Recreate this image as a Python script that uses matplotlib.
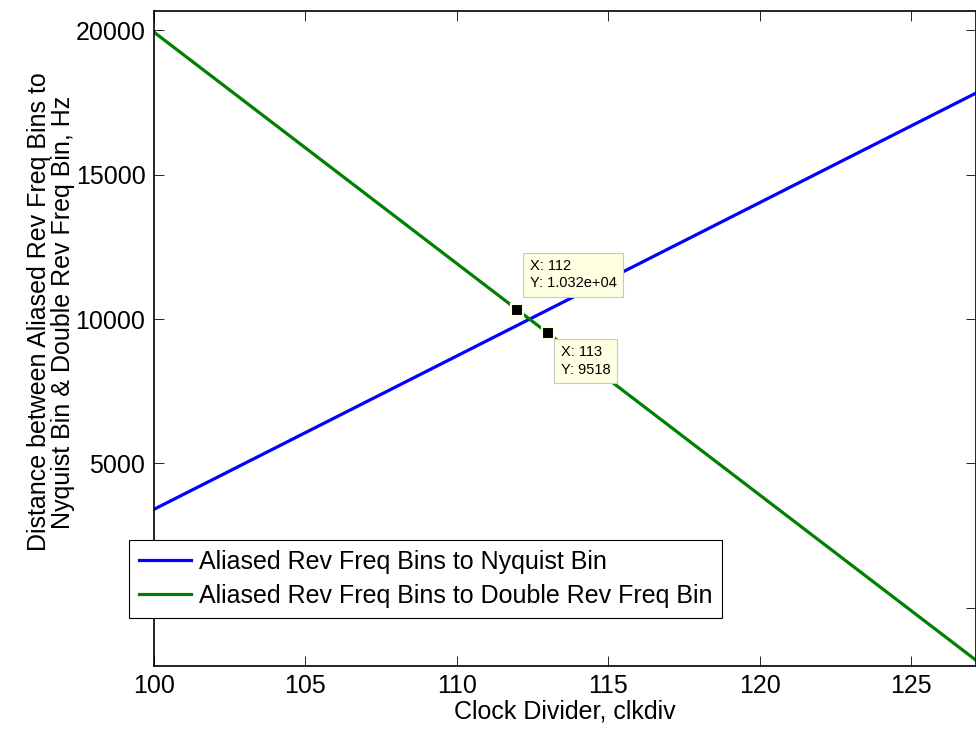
import matplotlib
matplotlib.use("Agg")
import matplotlib.pyplot as plt

plt.rcParams['font.family'] = ['Liberation Sans', 'DejaVu Sans']

# clock divider values and the two distances (Hz)
clkdiv = [100, 101, 102, 103, 104, 105, 106, 107, 108, 109, 110, 111, 112, 113, 114,
          115, 116, 117, 118, 119, 120, 121, 122, 123, 124, 125, 126, 127, 128]
nyquist_dist = [3405, 3937, 4468, 5000, 5531, 6063, 6594, 7126, 7657, 8189, 8720,
                9252, 9783, 10315, 10846, 11378, 11909, 12441, 12972, 13504, 14035,
                14567, 15098, 15630, 16161, 16693, 17224, 17756, 18287]
double_dist = [19944, 19142, 18340, 17538, 16736, 15934, 15132, 14330, 13528, 12726,
               11924, 11122, 10320, 9518, 8716, 7914, 7112, 6310, 5508, 4706, 3904,
               3102, 2300, 1498, 696, -106, -908, -1710, -2512]

# data cursors
cursor_x = [112, 113]
cursor_y = [10320, 9518]
cursor_txt = ["X: 112\nY: 1.032e+04", "X: 113\nY: 9518"]

yticks = [0, 5000, 10000, 15000, 20000]
ytick_labels = ['', '5000', '10000', '15000', '20000']
xticks = [100, 105, 110, 115, 120, 125]

fig = plt.figure(figsize=(9.76, 7.29), dpi=100)
ax = fig.add_axes([0.1575, 0.0871, 0.843, 0.8978])

ax.plot(clkdiv, nyquist_dist, color=(0, 0, 1), lw=2.3,
        label='Aliased Rev Freq Bins to Nyquist Bin')
ax.plot(clkdiv, double_dist, color=(0, 0.5, 0), lw=2.3,
        label='Aliased Rev Freq Bins to Double Rev Freq Bin')

ax.set_xlim(100, 127.15)
ax.set_ylim(-2000, 20670)
ax.set_xticks(xticks)
ax.set_yticks(yticks)
ax.set_yticklabels(ytick_labels)
ax.tick_params(direction='in', length=7, width=0.6, labelsize=18,
               top=True, right=True, pad=6)
for s in ax.spines.values():
    s.set_linewidth(1.2)

ax.set_xlabel('Clock Divider, clkdiv', fontsize=18, labelpad=1)
ax.set_ylabel('Distance between Aliased Rev Freq Bins to\nNyquist Bin & Double Rev Freq Bin, Hz',
              fontsize=18, linespacing=1.0)
ax.yaxis.set_label_coords(-0.096, 0.54)

# datatips
ax.plot(cursor_x, cursor_y, 's', color='black', ms=8, mec='#ffffe1', mew=1.5, zorder=4)
offsets = [(9, 14), (9.5, -9)]
aligns = ['bottom', 'top']
for x, y, t, off, va in zip(cursor_x, cursor_y, cursor_txt, offsets, aligns):
    ax.annotate(t, (x, y), xytext=off, textcoords='offset points', fontsize=10.5,
                va=va, ha='left', linespacing=1.3, zorder=4,
                bbox=dict(boxstyle='square,pad=0.45', fc='#ffffe1', ec='#c8c8c8', lw=0.8))

leg = ax.legend(loc='lower left', bbox_to_anchor=(0.1319, 0.1523), bbox_transform=fig.transFigure,
                fontsize=18, frameon=True, fancybox=False, handlelength=2.1,
                handletextpad=0.3, borderpad=0.4, labelspacing=0.4, borderaxespad=0)
leg.get_frame().set_edgecolor('black')
leg.get_frame().set_linewidth(0.8)
leg.get_frame().set_alpha(1)

fig.savefig('out.png', dpi=100)
